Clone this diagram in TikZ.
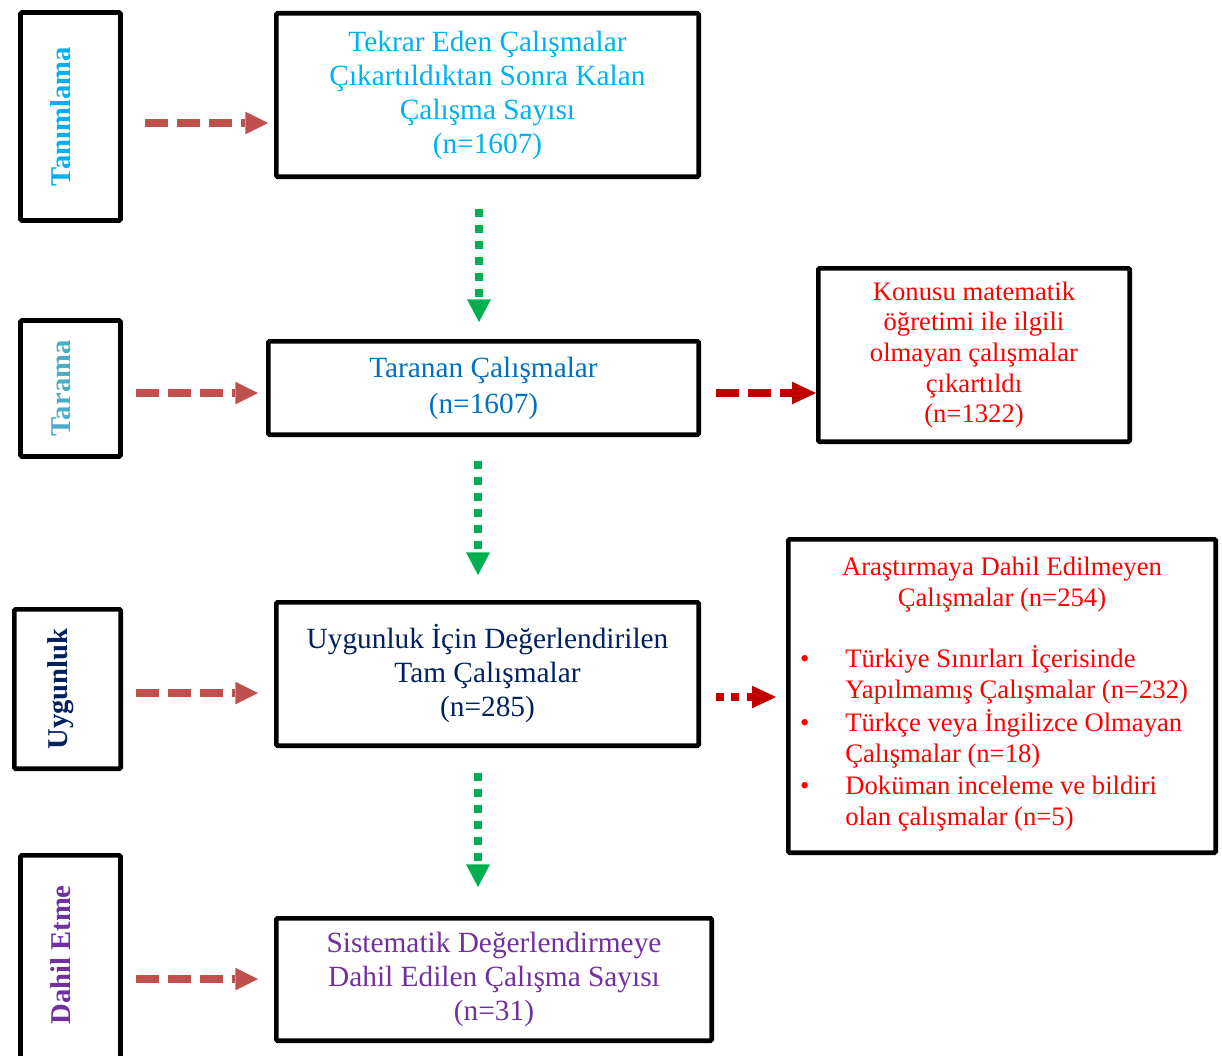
\documentclass[tikz,border=0pt]{standalone}
\usepackage{fontspec}
\setmainfont{Liberation Serif}
\usetikzlibrary{arrows.meta,calc}

\definecolor{tanimcolor}{HTML}{00B0F0}
\definecolor{taramacolor}{HTML}{4BACC6}
\definecolor{taranancolor}{HTML}{0070C0}
\definecolor{uygunnavy}{HTML}{002060}
\definecolor{dahilpurple}{HTML}{7030A0}
\definecolor{sidered}{HTML}{C0504D}
\definecolor{darkred}{HTML}{C00000}
\definecolor{textred}{HTML}{FF0000}
\definecolor{flowgreen}{HTML}{00B050}

\tikzset{
  box/.style={draw=black, line width=3.5pt, rounded corners=1pt, inner sep=0pt, align=center},
  sidebox/.style={box, rotate=90, font=\bfseries\fontsize{21.5}{24}\selectfont, text height=15pt, text depth=15pt},
  mainbox/.style={box, font=\fontsize{22}{25.5}\selectfont},
  redbox/.style={box, text=textred, font=\fontsize{20}{23}\selectfont},
  sidearrow/.style={color=sidered, line width=6pt, dash pattern=on 17pt off 7pt,
    -{Triangle[length=17pt,width=17pt,line width=0pt]}},
  outarrow/.style={color=darkred, line width=6pt, dash pattern=on 17pt off 7pt,
    -{Triangle[length=18pt,width=17pt,line width=0pt]}},
  outdots/.style={outarrow, dash pattern=on 6pt off 5.5pt},
  flowarrow/.style={color=flowgreen, line width=6pt, dash pattern=on 6pt off 6pt,
    -{Triangle[length=17pt,width=18pt,line width=0pt]}}
}

\begin{document}
\begin{tikzpicture}[x=0.75pt,y=-0.75pt]
\useasboundingbox (0,0) rectangle (1222,1056);

% side boxes are turned, so their right side is the south anchor
\node[sidebox, text=tanimcolor, minimum width=156pt, minimum height=75pt] (s1) at (70.5,116.5) {Tanımlama};
\node[sidebox, text=taramacolor, minimum width=102pt, minimum height=75pt] (s2) at (70.5,388.5) {Tarama};
\node[sidebox, text=uygunnavy, minimum width=119.5pt, minimum height=79.75pt] (s3) at (67.5,689) {Uygunluk};
\node[sidebox, text=dahilpurple, minimum width=164.5pt, minimum height=75pt] (s4) at (70.5,965) {\hspace*{15pt}Dahil Etme};

\node[mainbox, text=tanimcolor, minimum width=316.75pt, minimum height=122.5pt] (b1) at (487.5,95)
  {Tekrar Eden Çalışmalar\\Çıkartıldıktan Sonra Kalan\\Çalışma Sayısı\\(n=1607)};
\node[mainbox, text=taranancolor, minimum width=322.75pt, minimum height=70pt] (b2) at (483.5,388)
  {Taranan Çalışmalar\\[1.5pt](n=1607)};
\node[mainbox, text=uygunnavy, minimum width=316.75pt, minimum height=107.5pt] (b3) at (487.5,674)
  {Uygunluk İçin Değerlendirilen\\Tam Çalışmalar\\(n=285)};
\node[mainbox, text=dahilpurple, minimum width=326.5pt, minimum height=91.75pt] (b4) at (494,979.5)
  {Sistematik Değerlendirmeye\\Dahil Edilen Çalışma Sayısı\\(n=31)};

\node[redbox, minimum width=233.5pt, minimum height=130pt] (r1) at (974,355)
  {Konusu matematik\\öğretimi ile ilgili\\olmayan çalışmalar\\çıkartıldı\\(n=1322)};
\node[redbox, minimum width=320.5pt, minimum height=235pt] (r2) at (1002,696)
  {Araştırmaya Dahil Edilmeyen\\Çalışmalar (n=254)\\[24pt]
   \begin{tabular}{@{}l@{\hspace{27pt}}l@{\hspace{12pt}}}
   \textbullet & Türkiye Sınırları İçerisinde\\
               & Yapılmamış Çalışmalar (n=232)\\[1.5pt]
   \textbullet & Türkçe veya İngilizce Olmayan\\
               & Çalışmalar (n=18)\\[1.5pt]
   \textbullet & Doküman inceleme ve bildiri\\
               & olan çalışmalar (n=5)
   \end{tabular}};

\draw[sidearrow] ($(s1.south)+(22,6.5)$) -- ($(s1.south -| b1.west)+(-6,6.5)$);
\draw[sidearrow] ($(s2.south)+(13,4.5)$) -- ($(s2.south -| b2.west)+(-8,4.5)$);
\draw[sidearrow] ($(s3.south)+(13,4)$) -- ($(s3.south -| b3.west)+(-16,4)$);
\draw[sidearrow] ($(s4.south)+(13,14)$) -- ($(s4.south -| b4.west)+(-16,14)$);

\draw[outarrow] ($(b2.east)+(15,5)$) -- ($(b2.east -| r1.west)+(0,5)$);
\draw[outdots] ($(b3.east)+(15,23)$) -- ($(b3.east -| r2.west)+(-10,23)$);

\draw[flowarrow] ($(b1.south)+(-8.5,30)$) -- ($(b1.south |- b2.north)+(-8.5,-17)$);
\draw[flowarrow] ($(b2.south)+(-5.5,24)$) -- ($(b2.south |- b3.north)+(-5.5,-25)$);
\draw[flowarrow] ($(b3.south)+(-9.5,25)$) -- ($(b3.south |- b4.north)+(-9.5,-29)$);
\end{tikzpicture}
\end{document}
